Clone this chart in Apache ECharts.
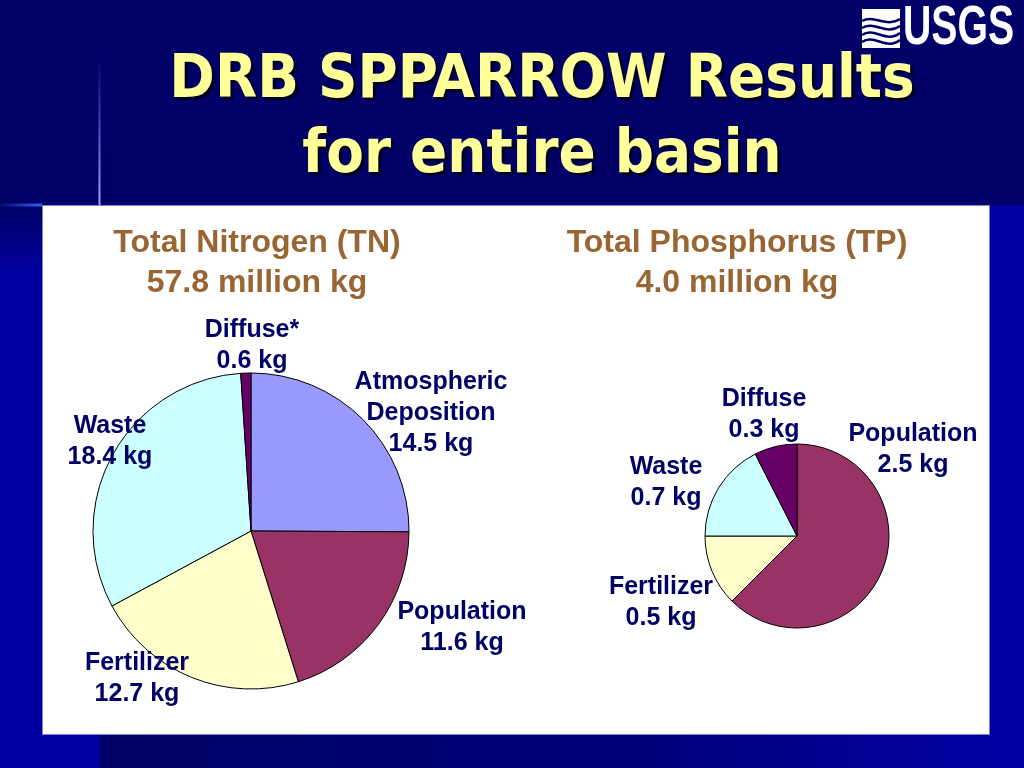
<!DOCTYPE html>
<html><head><meta charset="utf-8">
<script src="https://cdn.jsdelivr.net/npm/echarts@6/dist/echarts.min.js"></script>
<style>html,body{margin:0;padding:0;background:#000066;}#c{width:1024px;height:768px;}</style>
</head><body><div id="c"></div>
<script>
// ---- data ----
const tnCategories = ['Atmospheric\nDeposition', 'Population', 'Fertilizer', 'Waste', 'Diffuse*'];
const tnValues = [14.5, 11.6, 12.7, 18.4, 0.6];
const tpCategories = ['Population', 'Fertilizer', 'Waste', 'Diffuse'];
const tpValues = [2.5, 0.5, 0.7, 0.3];
const mainTitle = ['DRB SPPARROW Results', 'for entire basin'];
const tnTitle = ['Total Nitrogen (TN)', '57.8 million kg'];
const tpTitle = ['Total Phosphorus (TP)', '4.0 million kg'];

// ---- styles / layout ----
const sourceColors = {
  'Atmospheric\nDeposition': '#9999ff', 'Population': '#993366', 'Fertilizer': '#ffffcc',
  'Waste': '#ccffff', 'Diffuse*': '#660066', 'Diffuse': '#660066'
};
const tnLabelPos = [[431, 413], [462, 628], [137, 679], [110, 442], [252, 346]];
const tpLabelPos = [[913, 450], [661, 603], [666, 483], [764, 415]];
const NAVY = '#000066', BRIGHT = '#0000a0';
const labelFont = {fontFamily: 'Liberation Sans, Arial, sans-serif', fontWeight: 'bold', fontSize: 25, lineHeight: 31, color: '#000066'};

function pieData(cats, vals) {
  return cats.map((c, i) => ({name: c, value: vals[i], itemStyle: {color: sourceColors[c]}}));
}
function pieSeries(cats, vals, center, radius, pos) {
  return {
    type: 'pie', center: center, radius: radius, startAngle: 90, clockwise: true,
    silent: true, avoidLabelOverlap: false,
    itemStyle: {borderColor: '#000000', borderWidth: 1},
    label: Object.assign({show: true, position: 'outside', formatter: '{b}\n{c} kg', align: 'center'}, labelFont),
    labelLine: {show: false},
    labelLayout: function (p) {
      const q = pos[p.dataIndex];
      return {x: q[0], y: q[1], align: 'center', verticalAlign: 'middle'};
    },
    emphasis: {disabled: true},
    data: pieData(cats, vals)
  };
}
function wave(y, dy) {
  return {type: 'bezierCurve', z: 6,
    shape: {x1: 862, y1: y, cpx1: 874, cpy1: y - dy, cpx2: 886, cpy2: y + dy, x2: 900, y2: y - 2},
    style: {fill: null, stroke: NAVY, lineWidth: 2.5}};
}

const chart = echarts.init(document.getElementById('c'), null, {renderer: 'canvas'});
chart.setOption({
  backgroundColor: NAVY,
  animation: false,
  title: [
    {
      text: mainTitle.join('\n'), left: 542, top: 119, padding: 0,
      textAlign: 'center', textVerticalAlign: 'middle',
      textStyle: {
        fontFamily: 'DejaVu Sans Condensed, DejaVu Sans, sans-serif', fontWeight: 'bold',
        fontSize: 61, lineHeight: 75, color: '#ffff99',
        textShadowColor: '#000022', textShadowOffsetX: 3, textShadowOffsetY: 3, textShadowBlur: 1
      }
    },
    {
      text: tnTitle.join('\n'), left: 257, top: 263, padding: 0,
      textAlign: 'center', textVerticalAlign: 'middle',
      textStyle: {fontFamily: 'Liberation Sans, Arial, sans-serif', fontWeight: 'bold', fontSize: 32, lineHeight: 40, color: '#996633'}
    },
    {
      text: tpTitle.join('\n'), left: 737, top: 263, padding: 0,
      textAlign: 'center', textVerticalAlign: 'middle',
      textStyle: {fontFamily: 'Liberation Sans, Arial, sans-serif', fontWeight: 'bold', fontSize: 32, lineHeight: 40, color: '#996633'}
    }
  ],
  graphic: [
    {type: 'rect', z: -10, shape: {x: 0, y: 205, width: 100, height: 563},
      style: {fill: new echarts.graphic.LinearGradient(0, 0, 0, 1, [{offset: 0, color: NAVY}, {offset: 0.12, color: BRIGHT}, {offset: 1, color: BRIGHT}])}},
    {type: 'rect', z: -10, shape: {x: 990, y: 205, width: 34, height: 563}, style: {fill: BRIGHT}},
    {type: 'rect', z: -10, shape: {x: 100, y: 735, width: 890, height: 33},
      style: {fill: new echarts.graphic.LinearGradient(0, 0, 1, 0, [{offset: 0, color: NAVY}, {offset: 0.6, color: '#00007a'}, {offset: 1, color: BRIGHT}])}},
    {type: 'line', z: -9, shape: {x1: 99.5, y1: 60, x2: 99.5, y2: 205},
      style: {lineWidth: 2, stroke: new echarts.graphic.LinearGradient(0, 0, 0, 1, [{offset: 0, color: 'rgba(140,160,255,0)'}, {offset: 1, color: '#a0b0ff'}])}},
    {type: 'line', z: -9, shape: {x1: 0, y1: 205, x2: 42, y2: 205},
      style: {lineWidth: 3, stroke: new echarts.graphic.LinearGradient(0, 0, 1, 0, [{offset: 0, color: NAVY}, {offset: 1, color: '#3366ff'}])}},
    {type: 'rect', z: -8, shape: {x: 42.5, y: 205.5, width: 947, height: 529},
      style: {fill: '#ffffff', stroke: '#8080d8', lineWidth: 1}},
    // USGS logo
    {type: 'rect', z: 5, shape: {x: 862, y: 9, width: 38, height: 39}, style: {fill: '#ffffff'}},
    wave(21, 7), wave(28, 8), wave(35, 9), wave(42, 9),
    {type: 'text', z: 6, x: 903, y: 29, scaleX: 0.7,
      style: {text: 'USGS', x: 0, y: 0, align: 'left', verticalAlign: 'middle', fill: '#ffffff',
        font: 'bold 56px "Liberation Sans", Arial, sans-serif'}}
  ],
  series: [
    pieSeries(tnCategories, tnValues, [251, 531], 158, tnLabelPos),
    pieSeries(tpCategories, tpValues, [797, 536], 92, tpLabelPos)
  ]
});
</script>
</body></html>
